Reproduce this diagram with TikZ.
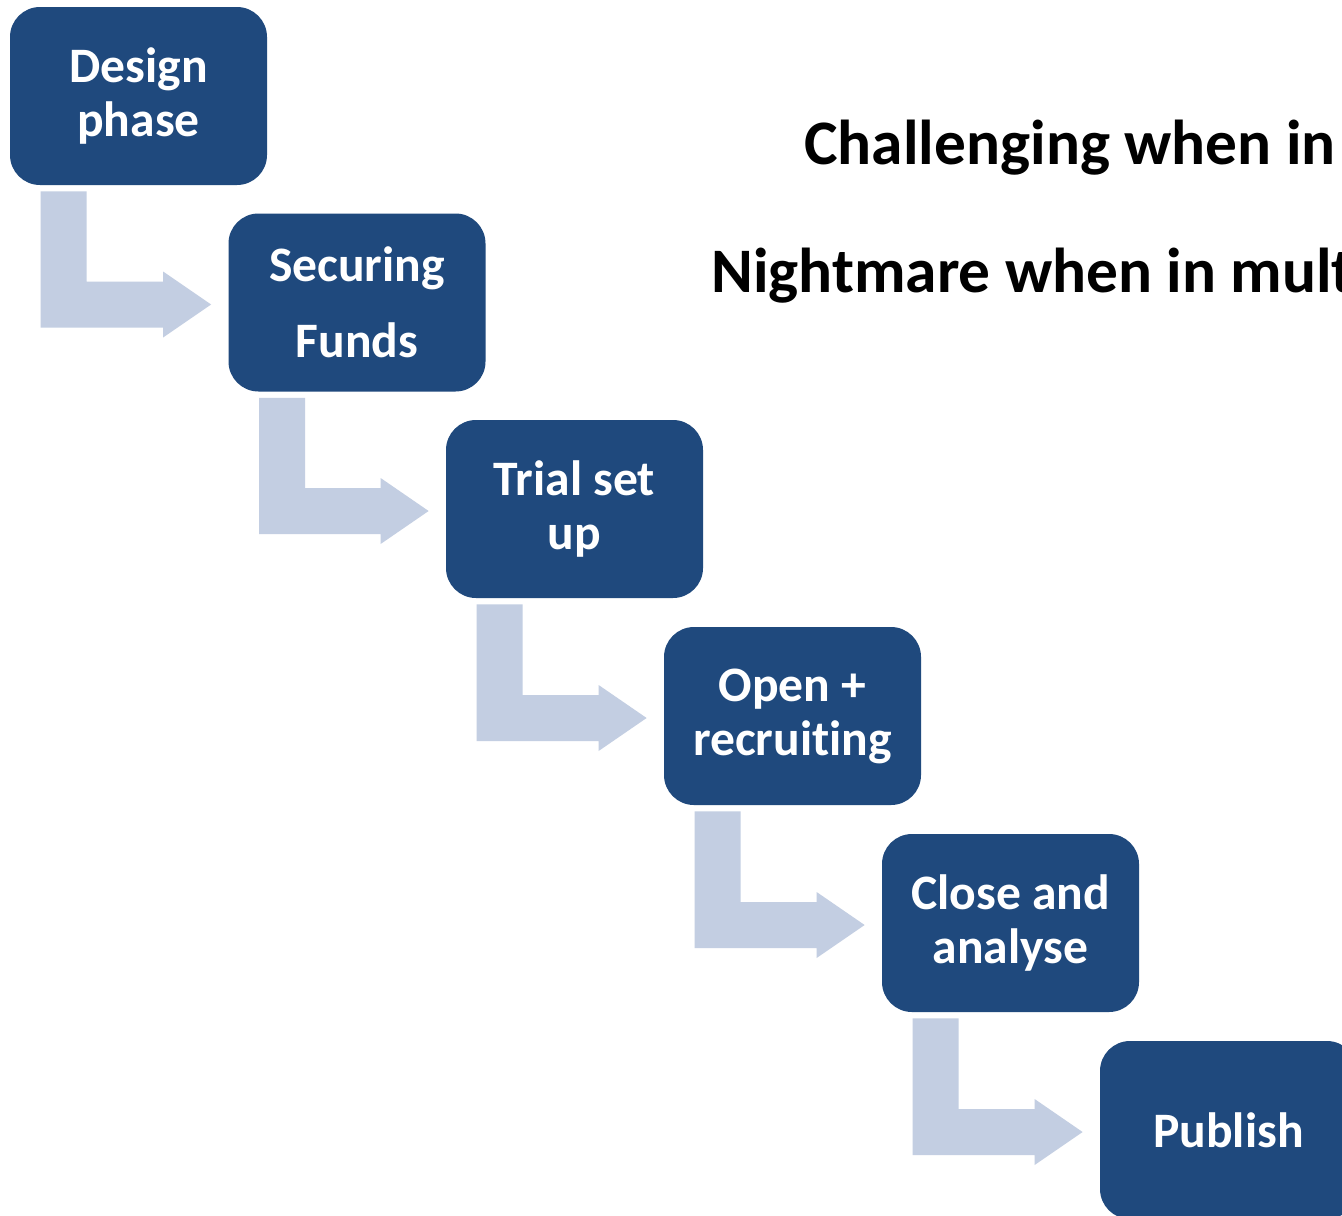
\documentclass[tikz,border=0pt]{standalone}
\usepackage{fontspec}
\setmainfont{Carlito}[RawFeature={-liga;-clig;-calt;-dlig}]
\usetikzlibrary{calc}
\definecolor{boxblue}{RGB}{31,73,125}
\definecolor{arrowblue}{RGB}{195,206,226}
\tikzset{
  stepbox/.style={fill=boxblue, draw=none, rounded corners=15pt,
    minimum width=128.5pt, minimum height=89pt, inner sep=0pt,
    text=white, font=\fontsize{24.8}{27}\selectfont\bfseries, align=center},
  bentarrow/.style={fill=arrowblue, draw=none},
  titletext/.style={font=\fontsize{31.7}{38}\selectfont\bfseries,
    anchor=base west, inner sep=0pt, text=black}
}
\newcommand{\stepconnector}[2]{%
  \fill[bentarrow] let \p1=(#1.south west), \p2=(#2.west) in
    (\x1+15.5pt,\y1-3pt) -- (\x1+38.5pt,\y1-3pt) -- (\x1+38.5pt,\y2+10.5pt)
    -- (\x2-32.5pt,\y2+10.5pt) -- (\x2-32.5pt,\y2+15.5pt) -- (\x2-8.5pt,\y2-1pt)
    -- (\x2-32.5pt,\y2-17.5pt) -- (\x2-32.5pt,\y2-12.5pt) -- (\x1+15.5pt,\y2-12.5pt) -- cycle;}
\begin{document}
\begin{tikzpicture}[x=0.5pt,y=-0.5pt]
  \clip (0,0) rectangle (1342,1215);
  \fill[white] (0,0) rectangle (1342,1215);
  \node[stepbox] (s1) at (138.5,96) {Design\\phase};
  \node[stepbox] (s2) at (357,302.5) {Securing\\[11pt]Funds};
  \node[stepbox] (s3) at (574.5,509) {Trial set\\up};
  \node[stepbox] (s4) at (792.5,716) {Open +\\recruiting};
  \node[stepbox] (s5) at (1010.5,923) {Close and\\analyse};
  \node[stepbox] (s6) at (1228.5,1130) {Publish};
  \stepconnector{s1}{s2}
  \stepconnector{s2}{s3}
  \stepconnector{s3}{s4}
  \stepconnector{s4}{s5}
  \stepconnector{s5}{s6}
  \node[titletext] (t1) at (804,164) {Challenging when in};
  \node[titletext] (t2) at (711,292) {Nightmare when in mult};
\end{tikzpicture}
\end{document}
